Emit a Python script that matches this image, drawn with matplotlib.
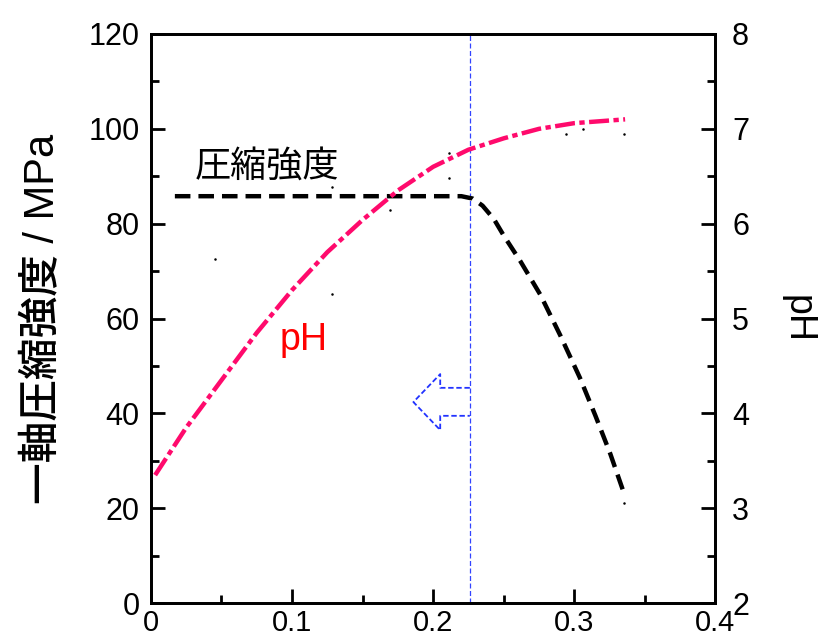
import numpy as np
import matplotlib
matplotlib.use("Agg")
import matplotlib.pyplot as plt
import matplotlib.transforms as mtransforms
from matplotlib.ticker import MultipleLocator

plt.rcParams['font.family'] = ['Liberation Sans', 'Noto Sans CJK JP', 'DejaVu Sans']

# compressive strength curve (MPa, left axis)
strength_x = [0.017, 0.10, 0.20, 0.220, 0.228, 0.235, 0.243, 0.250, 0.262, 0.276,
              0.290, 0.304, 0.315, 0.3255, 0.336]
strength_y = [85.8, 85.8, 85.8, 85.8, 85.3, 83.8, 81.0, 77.5, 72.0, 65.0,
              56.5, 47.5, 39.5, 31.5, 22.5]

# pH curve (right axis)
ph_x = [0.003, 0.025, 0.05, 0.075, 0.10, 0.125, 0.15, 0.175, 0.20, 0.225,
        0.25, 0.275, 0.30, 0.336]
ph_y = [3.35, 3.85, 4.35, 4.85, 5.3, 5.7, 6.04, 6.35, 6.6, 6.78,
        6.9, 7.0, 7.06, 7.1]

# faint measured points (left axis units)
dot_x = [0.0454, 0.128, 0.128, 0.1695, 0.211, 0.211, 0.294, 0.306, 0.335, 0.335]
dot_y = [72.5, 87.7, 65.2, 82.9, 94.9, 89.6, 98.9, 100.0, 98.9, 21.1]

boundary_x = 0.226

# hollow arrow outline (data coords)
arrow_x = [0.226, 0.205, 0.205, 0.186, 0.205, 0.205, 0.226]
arrow_y = [45.4, 45.4, 48.3, 42.4, 36.5, 39.5, 39.5]

fig = plt.figure(figsize=(8.29, 6.41), dpi=100)
ax = fig.add_axes([0.182, 0.059, 0.681, 0.888])
ax2 = ax.twinx()

ax.axvline(boundary_x, color='#3344ff', lw=0.9, ls=(0, (4, 2)))
ax.plot(arrow_x, arrow_y, color='#2233ff', lw=1.3, ls=(0, (3, 1.5)))
ax.plot(dot_x, dot_y, 'o', color='black', ms=1.8, mew=0)
ax.plot(strength_x, strength_y, color='black', lw=3.2, ls=(0, (3.5, 1.8)),
        dash_capstyle='butt')
ax2.plot(ph_x, ph_y, color='#ff0a6c', lw=3.2, ls=(0, (4.5, 1.0, 1.2, 1.0)),
         dash_capstyle='butt')

ax.set_xlim(0, 0.4)
ax.set_ylim(0, 120)
ax2.set_ylim(2, 8)

ax.xaxis.set_major_locator(MultipleLocator(0.1))
ax.xaxis.set_minor_locator(MultipleLocator(0.05))
ax.yaxis.set_major_locator(MultipleLocator(20))
ax.yaxis.set_minor_locator(MultipleLocator(10))
ax2.yaxis.set_major_locator(MultipleLocator(1))
ax2.yaxis.set_minor_locator(MultipleLocator(0.5))
ax.xaxis.set_major_formatter(plt.FuncFormatter(lambda v, p: '0' if v == 0 else f'{v:.1f}'))

for a in (ax, ax2):
    a.tick_params(which='major', direction='in', length=10, width=2, labelsize=22, pad=8)
    a.tick_params(which='minor', direction='in', length=6, width=2)
    for s in a.spines.values():
        s.set_linewidth(2)
ax.tick_params(axis='x', pad=4, labelsize=21)
ax2.tick_params(axis='y', pad=12)

ax.set_ylabel('一軸圧縮強度 / MPa', fontsize=30, fontweight='medium', labelpad=18)
ax2.set_ylabel('pH', fontsize=27, rotation=-90, labelpad=48)

ax.text(0.031, 88.3, '圧縮強度', fontsize=26, ha='left', va='bottom')
ax.text(0.091, 53.4, 'pH', fontsize=27, color='#ff0000', ha='left', va='baseline')

# lift the lowest pH label a little so it clears the "0.4" label
fig.canvas.draw()
lab = ax2.get_yticklabels()[0]
if lab.get_text() == '2':
    lab.set_transform(lab.get_transform() + mtransforms.ScaledTranslation(0, 7 / 72, fig.dpi_scale_trans))

fig.savefig('out.png', dpi=100)
